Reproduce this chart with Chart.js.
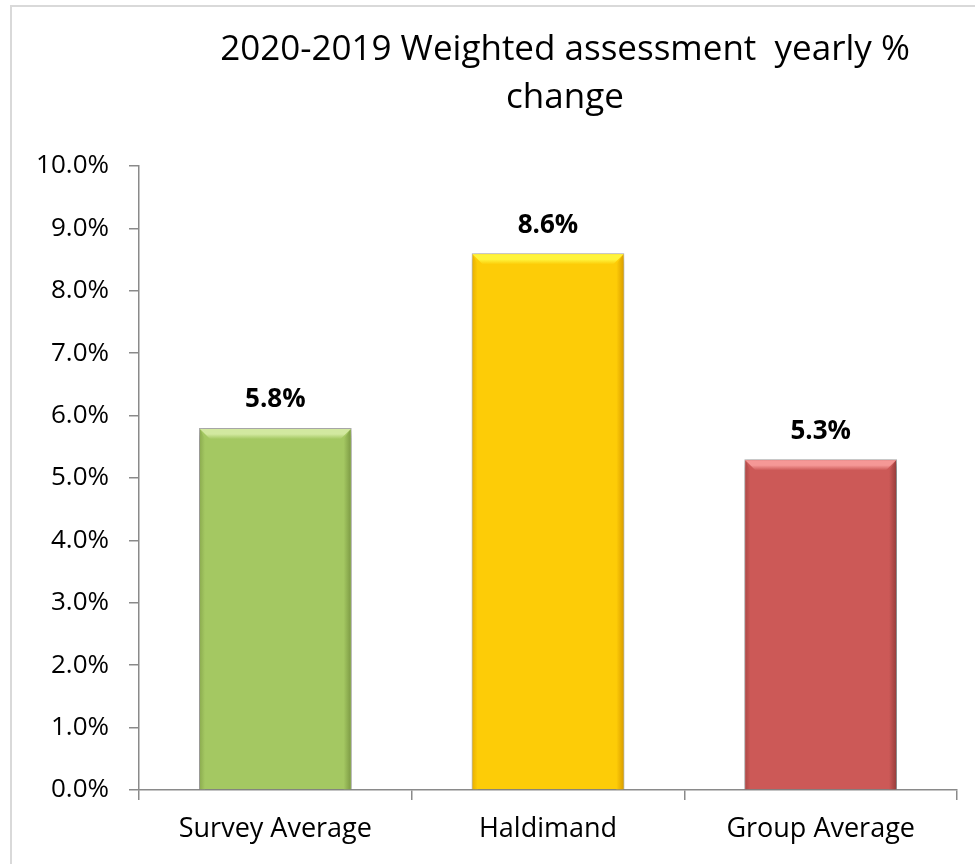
<!DOCTYPE html>
<html>
<head>
<meta charset="utf-8">
<title>Weighted assessment yearly % change</title>
<script src="https://cdn.jsdelivr.net/npm/chart.js@4.4.1/dist/chart.umd.min.js"></script>
<style>
  html, body { margin: 0; padding: 0; background: #fff; }
  #wrap { position: relative; width: 975px; height: 864px; overflow: hidden; }
  #frame { position: absolute; left: 10px; top: 5px; width: 1000px; height: 900px;
           border-top: 2px solid #d9d9d9; border-left: 2px solid #d9d9d9; }
  #chart { position: absolute; left: 0; top: 0; }
</style>
</head>
<body>
<div id="wrap">
  <div id="frame"></div>
  <canvas id="chart" width="975" height="864"></canvas>
</div>
<script>
// chart data
const categories = ['Survey Average', 'Haldimand', 'Group Average'];
const changePct = [5.8, 8.6, 5.3];
const barFill = ['#A4C862', '#FDCC07', '#CC5957'];
const barLight = ['#D2E8A0', '#FFF43C', '#F59896'];
const barDark = ['#7E9C45', '#DDA000', '#9A3E3C'];
const titleLines = ['2020-2019 Weighted assessment  yearly %', 'change'];
const yTicksMax = 10;
const yTicksStep = 1;

const FONT = '"Open Sans", "Noto Sans", sans-serif';
const AXIS_GREY = '#8a8a8a';

// two-line chart title, centred a little right of the canvas middle
const titlePlugin = {
    id: 'titleLines',
    afterDraw(chart) {
        const ctx = chart.ctx;
        ctx.save();
        ctx.fillStyle = '#000';
        ctx.font = '35px ' + FONT;
        ctx.textAlign = 'center';
        ctx.textBaseline = 'middle';
        ctx.fillText(titleLines[0], 565, 50);
        ctx.fillText(titleLines[1], 565, 98);
        ctx.restore();
    }
};

// drop shadow under the bars plus a bevelled top/right edge
const bevelPlugin = {
    id: 'bevel',
    beforeDatasetsDraw(chart) {
        const ctx = chart.ctx;
        ctx.save();
        ctx.shadowColor = 'rgba(0,0,0,0.35)';
        ctx.shadowBlur = 8;
        ctx.shadowOffsetX = 1;
        ctx.shadowOffsetY = 4;
    },
    afterDatasetsDraw(chart) {
        const ctx = chart.ctx;
        ctx.restore();
        const meta = chart.getDatasetMeta(0);
        meta.data.forEach((bar, i) => {
            const { x, y, base, width } = bar.getProps(['x', 'y', 'base', 'width'], true);
            const l = x - width / 2 + 1, r = x + width / 2 - 1, t = y + 1, b = base;
            const bv = 10;
            ctx.save();
            // right edge shading
            let g = ctx.createLinearGradient(r - 7, 0, r, 0);
            g.addColorStop(0, barFill[i]);
            g.addColorStop(1, barDark[i]);
            ctx.fillStyle = g;
            ctx.beginPath();
            ctx.moveTo(r, t); ctx.lineTo(r, b); ctx.lineTo(r - 7, b); ctx.lineTo(r - 7, t + bv);
            ctx.closePath(); ctx.fill();
            // left edge shading
            g = ctx.createLinearGradient(l, 0, l + 5, 0);
            g.addColorStop(0, barDark[i]);
            g.addColorStop(1, barFill[i]);
            ctx.globalAlpha = 0.6;
            ctx.fillStyle = g;
            ctx.beginPath();
            ctx.moveTo(l, t); ctx.lineTo(l + 5, t + bv); ctx.lineTo(l + 5, b); ctx.lineTo(l, b);
            ctx.closePath(); ctx.fill();
            ctx.globalAlpha = 1;
            // top bevel
            g = ctx.createLinearGradient(0, t, 0, t + bv);
            g.addColorStop(0, barLight[i]);
            g.addColorStop(0.5, barLight[i]);
            g.addColorStop(1, barFill[i]);
            ctx.fillStyle = g;
            ctx.beginPath();
            ctx.moveTo(l, t); ctx.lineTo(r, t); ctx.lineTo(r - bv, t + bv); ctx.lineTo(l + bv, t + bv);
            ctx.closePath(); ctx.fill();
            ctx.restore();
        });
    }
};

// bold value labels above each bar
const valueLabels = {
    id: 'valueLabels',
    afterDatasetsDraw(chart) {
        const ctx = chart.ctx;
        ctx.save();
        ctx.fillStyle = '#000';
        ctx.font = 'bold 26px ' + FONT;
        ctx.textAlign = 'center';
        ctx.textBaseline = 'middle';
        chart.getDatasetMeta(0).data.forEach((bar, i) => {
            ctx.fillText(changePct[i].toFixed(1) + '%', bar.x, bar.y - 28);
        });
        ctx.restore();
    }
};

new Chart(document.getElementById('chart'), {
    type: 'bar',
    data: {
        labels: categories,
        datasets: [{
            data: changePct,
            backgroundColor: barFill,
            borderColor: 'rgba(110,110,110,0.55)',
            borderWidth: 1,
            barPercentage: 0.56,
            categoryPercentage: 1
        }]
    },
    options: {
        responsive: false,
        animation: false,
        layout: { padding: { top: 166, right: 18, left: 0, bottom: 0 } },
        plugins: {
            legend: { display: false },
            tooltip: { enabled: false },
            title: { display: false }
        },
        scales: {
            x: {
                grid: { drawOnChartArea: false, offset: true, tickLength: 10, color: AXIS_GREY, lineWidth: 1.5 },
                border: { color: AXIS_GREY, width: 1.5 },
                ticks: { font: { family: FONT, size: 27 }, color: '#000', padding: 13, maxRotation: 0 },
                afterFit(scale) { scale.height = 74; }
            },
            y: {
                min: 0,
                max: yTicksMax,
                grid: { drawOnChartArea: false, tickLength: 10, color: AXIS_GREY, lineWidth: 1.5 },
                border: { color: AXIS_GREY, width: 1.5 },
                ticks: {
                    stepSize: yTicksStep,
                    font: { family: FONT, size: 26 },
                    color: '#000',
                    padding: 20,
                    callback: v => Number(v).toFixed(1) + '%'
                },
                afterFit(scale) { scale.width = 139; }
            }
        }
    },
    plugins: [bevelPlugin, valueLabels, titlePlugin]
});
</script>
</body>
</html>
